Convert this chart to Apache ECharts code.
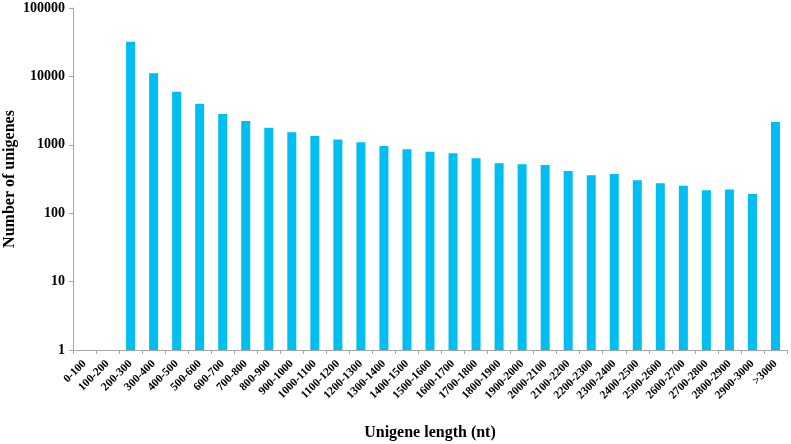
<!DOCTYPE html>
<html>
<head>
<meta charset="utf-8">
<script src="https://cdn.jsdelivr.net/npm/echarts@6/dist/echarts.min.js"></script>
<style>html,body{margin:0;padding:0;background:#fff;}#c{width:791px;height:444px;}</style>
</head>
<body>
<div id="c"></div>
<script>
const categories = ['0-100','100-200','200-300','300-400','400-500','500-600','600-700','700-800','800-900','900-1000','1000-1100','1100-1200','1200-1300','1300-1400','1400-1500','1500-1600','1600-1700','1700-1800','1800-1900','1900-2000','2000-2100','2100-2200','2200-2300','2300-2400','2400-2500','2500-2600','2600-2700','2700-2800','2800-2900','2900-3000','>3000'];
const counts = [null,null,32000,11100,5980,3990,2820,2230,1780,1520,1345,1200,1087,960,860,793,751,634,536,519,507,414,358,374,303,274,252,216,223,191,2155];
const yTicks = [1,10,100,1000,10000,100000];

const font = '"Liberation Serif","Times New Roman",serif';
const chart = echarts.init(document.getElementById('c'));
chart.setOption({
  animation: false,
  grid: {left: 73, right: 4, top: 8, bottom: 94, containLabel: false, outerBoundsMode: 'none'},
  xAxis: {
    type: 'category',
    data: categories,
    name: 'Unigene length (nt)',
    nameLocation: 'middle',
    nameGap: 75,
    nameMoveOverlap: false,
    nameTextStyle: {fontFamily: font, fontWeight: 'bold', fontSize: 16, color: '#000'},
    axisLine: {lineStyle: {color: '#a6a6a6', width: 1}},
    axisTick: {show: true, alignWithLabel: false, length: 4, lineStyle: {color: '#a6a6a6'}},
    axisLabel: {interval: 0, rotate: 45, margin: 12, fontFamily: font, fontWeight: 'bold', fontSize: 11.5, color: '#000'},
    splitLine: {show: false}
  },
  yAxis: {
    type: 'log',
    logBase: 10,
    min: yTicks[0],
    max: yTicks[yTicks.length - 1],
    name: 'Number of unigenes',
    nameLocation: 'middle',
    nameGap: 55,
    nameMoveOverlap: false,
    nameTextStyle: {fontFamily: font, fontWeight: 'bold', fontSize: 16, color: '#000'},
    axisLine: {show: true, lineStyle: {color: '#a6a6a6', width: 1}},
    axisTick: {show: true, length: 4, lineStyle: {color: '#a6a6a6'}},
    axisLabel: {fontFamily: font, fontWeight: 'bold', fontSize: 14, color: '#000', margin: 8,
      formatter: v => String(Math.round(v))},
    splitLine: {show: false},
    minorTick: {show: false}
  },
  series: [{
    type: 'bar',
    data: counts,
    barWidth: 9,
    itemStyle: {color: '#00bdf2'}
  }]
});
</script>
</body>
</html>
